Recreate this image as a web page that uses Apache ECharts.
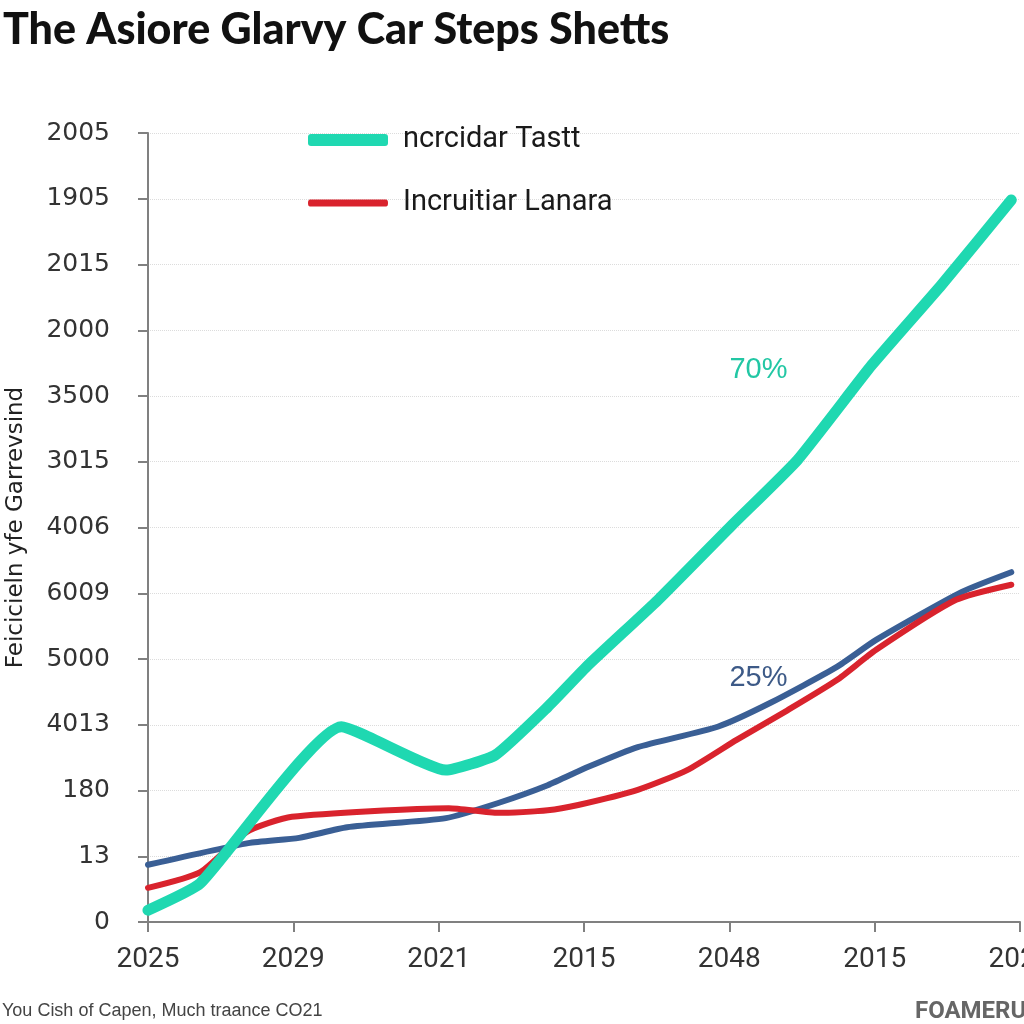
<!DOCTYPE html>
<html>
<head>
<meta charset="utf-8">
<script src="https://cdn.jsdelivr.net/npm/echarts@6/dist/echarts.min.js"></script>
<style>
html,body{margin:0;padding:0;background:#fff;}
#chart{width:1024px;height:1024px;}
</style>
</head>
<body>
<div id="chart"></div>
<script>
// ---- data (x in axis-tick units, y in axis-tick units) ----
var titleText = 'The Asiore Glarvy Car Steps Shetts';
var yAxisName = 'Feicicieln yfe Garrevsind';
var footerText = 'You Cish of Capen, Much traance CO21';
var brandText = 'FOAMERU';
var xTickLabels = ['2025', '2029', '2021', '2015', '2048', '2015', '2021'];
var yTickLabels = ['0', '13', '180', '4013', '5000', '6009', '4006', '3015', '3500', '2000', '2015', '1905', '2005'];

var tealName = 'ncrcidar Tastt';
var redName = 'Incruitiar Lanara';
var blueName = 'Blue';

var tealX = [0, 0.36, 1.33, 2.05, 2.39, 2.75, 3.03, 3.51, 4.02, 4.47, 4.98, 5.46, 5.94];
var tealY = [0.18, 0.59, 2.97, 2.31, 2.54, 3.27, 3.91, 4.90, 6.04, 7.03, 8.47, 9.69, 10.98];

var blueX = [0, 0.69, 1.04, 1.37, 2.05, 2.41, 2.75, 3.03, 3.37, 3.92, 4.28, 4.74, 5.01, 5.60, 5.94];
var blueY = [0.87, 1.20, 1.28, 1.44, 1.58, 1.81, 2.08, 2.36, 2.66, 2.97, 3.33, 3.88, 4.29, 5.02, 5.32];

var redX = [0, 0.36, 0.68, 0.99, 2.07, 2.41, 2.75, 2.96, 3.37, 3.71, 4.05, 4.40, 4.74, 5.01, 5.56, 5.94];
var redY = [0.52, 0.76, 1.37, 1.60, 1.73, 1.66, 1.70, 1.78, 2.01, 2.31, 2.77, 3.22, 3.68, 4.14, 4.90, 5.13];

var annotations = [
  { text: '70%', x: 4.20, y: 8.40 },
  { text: '25%', x: 4.20, y: 3.71 }
];

function pairs(xs, ys) { return xs.map(function (x, i) { return [x, ys[i]]; }); }

var TEAL = '#1fd8b1', RED = '#d9232d', BLUE = '#3a5f95';

var chart = echarts.init(document.getElementById('chart'), null, { renderer: 'canvas' });
chart.setOption({
  backgroundColor: '#ffffff',
  animation: false,
  title: [
    { text: titleText, left: -2, top: 4,
      textStyle: { fontFamily: 'Lato', fontWeight: 900, fontSize: 43, color: '#111' } },
    { text: footerText, left: -3, top: 997,
      textStyle: { fontFamily: 'Liberation Sans', fontWeight: 'normal', fontSize: 18, color: '#444' } },
    { text: brandText, left: 910, top: 995,
      textStyle: { fontFamily: 'Roboto', fontWeight: 'bold', fontSize: 24, color: '#666' } }
  ],
  legend: {
    orient: 'vertical', left: 303, top: 120, itemWidth: 80, itemHeight: 12, itemGap: 33,
    data: [
      { name: tealName, icon: 'roundRect' },
      { name: redName, icon: 'path://M80,12 M0,0 M2,2.5 L78,2.5 Q80,2.5 80,6 Q80,9.5 78,9.5 L2,9.5 Q0,9.5 0,6 Q0,2.5 2,2.5 Z' }
    ],
    textStyle: { fontFamily: 'Roboto', fontSize: 29, color: '#1a1a1a', lineHeight: 30, padding: [0, 0, 0, 10] }
  },
  grid: { left: 148, right: 4, top: 133, bottom: 102, containLabel: false, outerBoundsMode: 'none' },
  xAxis: {
    type: 'value', min: 0, max: 6, interval: 1,
    axisLine: { show: true, lineStyle: { color: '#808080', width: 2 } },
    axisTick: { show: true, inside: false, length: 10, lineStyle: { color: '#808080', width: 2 } },
    splitLine: { show: false },
    axisLabel: {
      margin: 24, fontFamily: 'Roboto', fontSize: 28, color: '#333',
      showMinLabel: true, showMaxLabel: true,
      formatter: function (v) { return xTickLabels[Math.round(v)]; }
    }
  },
  yAxis: {
    type: 'value', min: 0, max: 12, interval: 1,
    name: yAxisName, nameLocation: 'middle', nameRotate: 90, nameGap: 120,
    nameTextStyle: { fontFamily: 'DejaVu Sans', fontSize: 23, color: '#222' },
    axisLine: { show: true, lineStyle: { color: '#808080', width: 2 } },
    axisTick: { show: true, inside: false, length: 10, lineStyle: { color: '#808080', width: 2 } },
    splitLine: { show: true, lineStyle: { color: '#dcdcdc', type: 'dotted', width: 1 } },
    axisLabel: {
      margin: 38, fontFamily: 'DejaVu Sans', fontSize: 25, color: '#333',
      showMinLabel: true, showMaxLabel: true,
      formatter: function (v) { return yTickLabels[Math.round(v)]; }
    }
  },
  series: [
    { name: blueName, type: 'line', data: pairs(blueX, blueY), showSymbol: false, smooth: 0.2,
      color: BLUE, lineStyle: { color: BLUE, width: 6, cap: 'round', join: 'round' }, z: 2 },
    { name: redName, type: 'line', data: pairs(redX, redY), showSymbol: false, smooth: 0.2,
      color: RED, lineStyle: { color: RED, width: 6, cap: 'round', join: 'round' }, z: 3 },
    { name: tealName, type: 'line', data: pairs(tealX, tealY), showSymbol: false, smooth: 0.15,
      color: TEAL, lineStyle: { color: TEAL, width: 11, cap: 'round', join: 'round' }, z: 4,
      markPoint: {
        symbol: 'circle', symbolSize: 0, silent: true,
        data: annotations.map(function (a, i) {
          return { coord: [a.x, a.y], value: a.text,
            label: { show: true, position: 'inside', formatter: a.text,
              fontFamily: 'Liberation Sans', fontSize: 29,
              color: i === 0 ? '#22c7a4' : '#3d5a87' } };
        })
      } }
  ]
});
</script>
</body>
</html>
